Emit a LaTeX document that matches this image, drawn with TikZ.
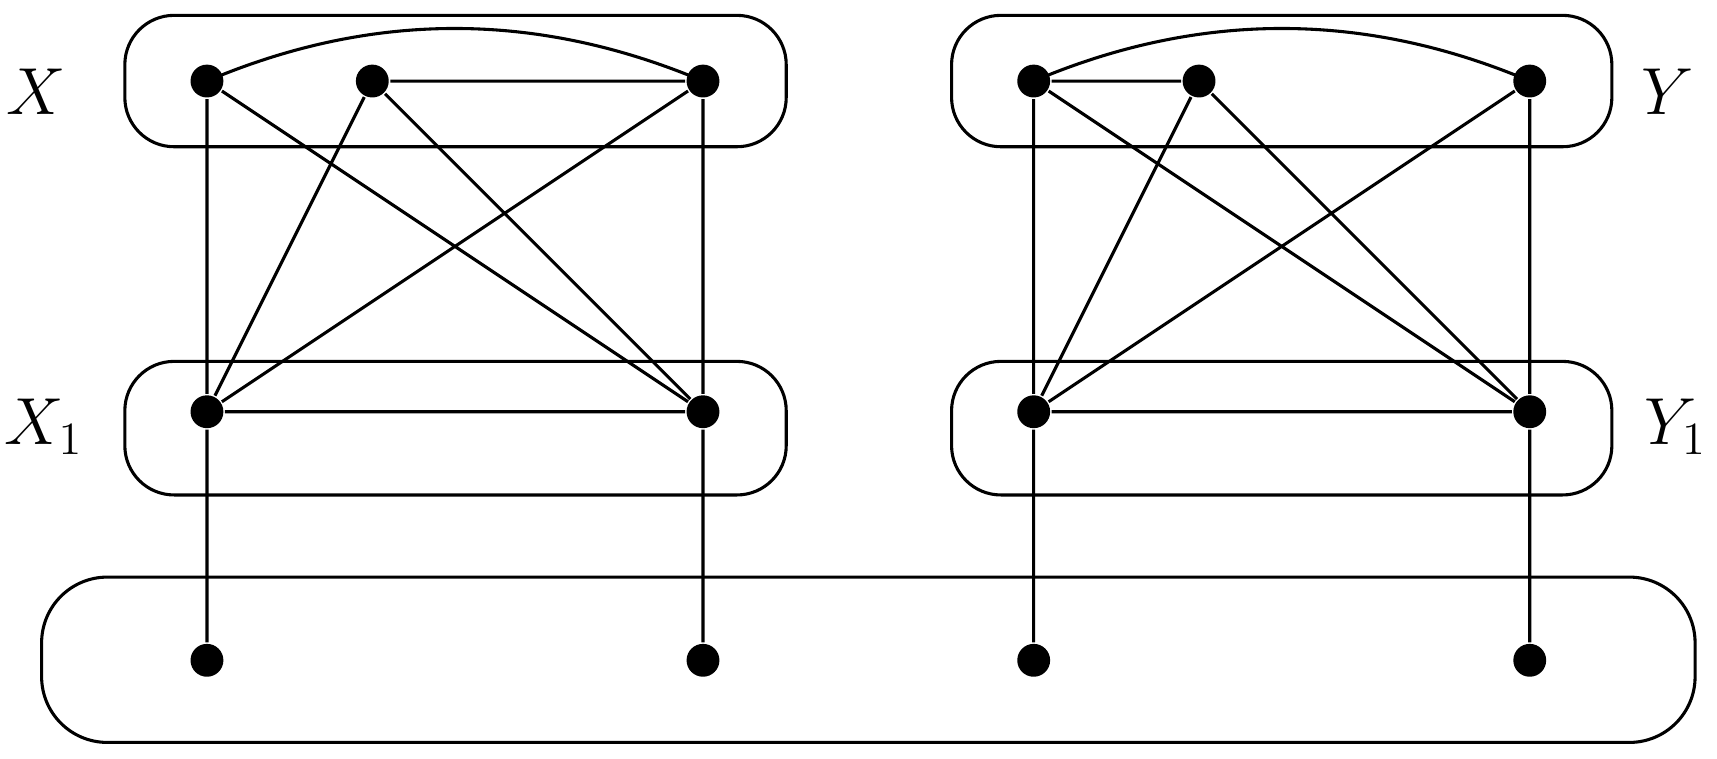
\documentclass[tikz,border=0pt]{standalone}
\begin{document}
\begin{tikzpicture}[x=0.01cm,y=-0.01cm,line width=0.8pt,
  dot/.style={circle,fill=black,inner sep=0pt,minimum size=0.3cm},
  grp/.style={draw,rounded corners=0.45cm,line width=0.8pt},
  lab/.style={font=\fontsize{17}{20}\selectfont}]
\useasboundingbox (0,0) rectangle (1568,693);
\draw[grp] (114,14) rectangle (718,134);
\draw[grp] (114,330) rectangle (718,452);
\draw[grp] (869,14) rectangle (1472,134);
\draw[grp] (869,330) rectangle (1472,452);
\draw[grp,rounded corners=0.6cm] (38,527) rectangle (1548,678);
\foreach \n/\x/\y in {a1/189/74,a2/340/74,a3/642/74,b1/189/376,b3/642/376,c1/189/603,c3/642/603,
  d1/944/74,d2/1095/74,d3/1397/74,e1/944/376,e3/1397/376,f1/944/603,f3/1397/603}
  \node[dot] (\n) at (\x,\y) {};
\node[lab] at (33,84) {$X$};
\node[lab] at (40,390) {$X_1$};
\node[lab] at (1523,84) {$Y$};
\node[lab] at (1530,390) {$Y_1$};
\draw (a1.center) .. controls (340,10) and (490,10) .. (a3.center);
\draw (a2)--(a3) (a1)--(b1) (a3)--(b3) (a1)--(b3) (a2)--(b1) (a2)--(b3) (a3)--(b1) (b1)--(b3) (b1)--(c1) (b3)--(c3);
\draw (d1.center) .. controls (1095,10) and (1246,10) .. (d3.center);
\draw (d1)--(d2) (d1)--(e1) (d3)--(e3) (d1)--(e3) (d2)--(e1) (d2)--(e3) (d3)--(e1) (e1)--(e3) (e1)--(f1) (e3)--(f3);
\end{tikzpicture}
\end{document}
